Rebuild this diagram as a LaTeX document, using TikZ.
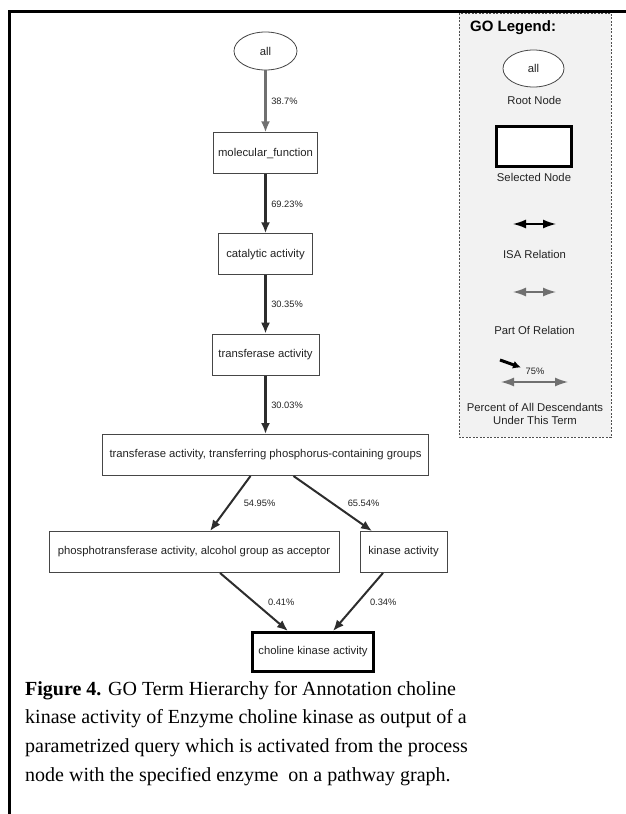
\documentclass[tikz,border=0pt]{standalone}
\usepackage{fontspec}
\setmainfont{Liberation Serif}
\setsansfont{Liberation Sans}
\usepackage{tikz}
\usetikzlibrary{arrows.meta,positioning,shapes.geometric}
\definecolor{edgedark}{RGB}{45,45,45}
\definecolor{edgegray}{RGB}{112,112,112}
\definecolor{boxline}{RGB}{70,70,70}
\definecolor{inkgray}{RGB}{35,35,35}
\definecolor{legendfill}{RGB}{242,242,242}
\definecolor{legendline}{RGB}{80,80,80}
\tikzset{
  termbox/.style={draw=boxline, line width=0.9pt, rectangle, minimum height=41pt,
    inner xsep=4pt, align=center, fill=white, text=inkgray, font=\sffamily\fontsize{11.3}{13}\selectfont},
  selbox/.style={termbox, draw=black, line width=3pt, minimum height=39pt},
  rootnode/.style={ellipse, draw=boxline, line width=0.8pt, minimum width=63pt,
    minimum height=38pt, inner sep=0pt, fill=white, text=inkgray, font=\sffamily\fontsize{11.3}{13}\selectfont},
  isa/.style={-{Latex[length=11pt,width=9pt]}, draw=edgedark, line width=2.6pt},
  isaslant/.style={isa, line width=2pt},
  partof/.style={isa, draw=edgegray},
  pct/.style={font=\sffamily\fontsize{9.3}{11}\selectfont, text=inkgray, anchor=west, inner sep=0pt},
  legtext/.style={font=\sffamily\fontsize{11.3}{13}\selectfont, text=inkgray, align=center, inner sep=0pt},
  legisa/.style={{Latex[length=13pt,width=9pt]}-{Latex[length=13pt,width=9pt]}, draw=black, line width=1.4pt},
  legpart/.style={legisa, draw=edgegray},
  legpct/.style={-{Latex[length=8pt,width=8pt]}, draw=black, line width=3pt},
  legendpanel/.style={draw=legendline, fill=legendfill, line width=0.9pt, dash pattern=on 2pt off 1.5pt},
  frame/.style={draw=black, line width=3pt},
  caption/.style={anchor=north west, align=left, inner sep=0pt, font=\fontsize{20}{28.7}\selectfont}
}
\begin{document}
\begin{tikzpicture}[x=1pt, y=-1pt]
\useasboundingbox (0,0) rectangle (626,814);

\node[rootnode] (all) at (265.5,51) {all};
\node[termbox, minimum width=104pt, below=62pt of all] (mf) {molecular\_function};
\node[termbox, minimum width=94pt, below=59pt of mf] (cat) {catalytic activity};
\node[termbox, minimum width=107pt, below=58.5pt of cat] (trans) {transferase activity};
\node[termbox, minimum width=326pt, below=58.5pt of trans] (tpcg) {transferase activity, transferring phosphorus-containing groups};
\node[termbox, minimum width=290pt] (phos) at (194,552) {phosphotransferase activity, alcohol group as acceptor};
\node[termbox, minimum width=87pt] (kin) at (403.5,552) {kinase activity};
\node[selbox, minimum width=121pt] (ck) at (313,652) {choline kinase activity};

\draw[partof] (all) -- node[pct, xshift=4.5pt] {38.7\%} (mf);
\draw[isa] (mf) -- node[pct, xshift=4.5pt] {69.23\%} (cat);
\draw[isa] (cat) -- node[pct, xshift=4.5pt] {30.35\%} (trans);
\draw[isa] (trans) -- node[pct, xshift=4.5pt] {30.03\%} (tpcg);
\draw[isaslant] ([xshift=-15pt]tpcg.south) -- node[pct, xshift=12.5pt] {54.95\%} ([xshift=16pt]phos.north);
\draw[isaslant] ([xshift=28pt]tpcg.south) -- node[pct, xshift=14pt] {65.54\%} ([xshift=-31.5pt]kin.north);
\draw[isaslant] ([xshift=26pt]phos.south) -- node[pct, xshift=13pt] {0.41\%} ([xshift=-25pt]ck.north);
\draw[isaslant] ([xshift=-20.5pt]kin.south) -- node[pct, xshift=11pt] {0.34\%} ([xshift=20pt]ck.north);

\draw[legendpanel] (459,13) rectangle (611,437);
\node[anchor=west, inner sep=0pt, text=black, font=\sffamily\bfseries\fontsize{15}{17}\selectfont] (legtitle) at (470,28) {GO Legend:};
\node[rootnode, minimum width=61pt, minimum height=37pt] (legall) at (533.5,68.5) {all};
\node[legtext] (legroot) at (534.5,100) {Root Node};
\node[selbox, minimum width=75pt, minimum height=40pt] (legsel) at (534,146.5) {};
\node[legtext] (legseltxt) at (534,177) {Selected Node};
\coordinate (isa-a) at (513,224);
\coordinate (isa-b) at (556,224);
\draw[legisa] (isa-a) -- (isa-b);
\node[legtext] (legisatxt) at (534.5,254) {ISA Relation};
\coordinate (part-a) at (513,292);
\coordinate (part-b) at (556,292);
\draw[legpart] (part-a) -- (part-b);
\node[legtext] (legparttxt) at (534.5,330) {Part Of Relation};
\coordinate (pct-a) at (500,360);
\coordinate (pct-b) at (521,367.5);
\draw[legpct] (pct-a) -- (pct-b);
\node[pct, anchor=center] (legpcttxt) at (535,371) {75\%};
\coordinate (desc-a) at (501,382);
\coordinate (desc-b) at (568,382);
\draw[legpart] (desc-a) -- (desc-b);
\node[legtext] (legdesc) at (535,414) {Percent of All Descendants\\Under This Term};

\draw[frame] (626,11.5) -- (9.5,11.5) -- (9.5,814);

\node[caption] (cap) at (25,681) {\textbf{Figure 4.} GO Term Hierarchy for Annotation choline\\
kinase activity of Enzyme choline kinase as output of a\\
parametrized query which is activated from the process\\
node with the specified enzyme\ \ on a pathway graph.};
\end{tikzpicture}
\end{document}
